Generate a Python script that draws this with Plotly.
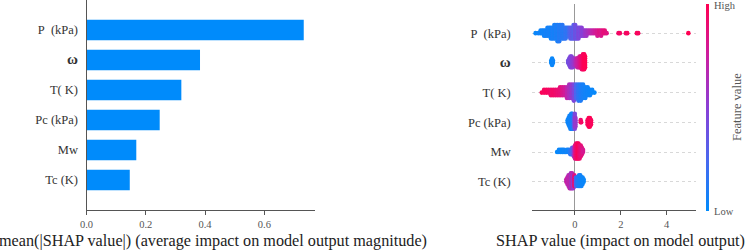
import numpy as np
import plotly.graph_objects as go

W, H = 749, 252
SERIF = "Liberation Serif"

# ---------------- data ----------------
features = ["P\u00a0 (kPa)", "<b><span style='font-size:15px'>ω</span></b>", "T( K)", "Pc (kPa)", "Mw", "Tc (K)"]  # top -> bottom
mean_abs_shap = [0.733, 0.383, 0.320, 0.247, 0.168, 0.146]

bar_ticks = [0.0, 0.2, 0.4, 0.6]
bar_ticktext = ["0.0", "0.2", "0.4", "0.6"]
swarm_ticks = [0, 2, 4]
swarm_ticktext = ["0", "2", "4"]
colorbar_labels = ["High", "Low"]

# [shap value, feature value (0=low..1=high), number of samples]
P_points = [
    [-1.72, 0.03, 1], [-1.60, 0.05, 1], [-1.50, 0.04, 2], [-1.42, 0.06, 2], [-1.35, 0.05, 3],
    [-1.28, 0.07, 3], [-1.20, 0.06, 4], [-1.12, 0.08, 4], [-1.05, 0.05, 5], [-0.98, 0.09, 5],
    [-0.90, 0.07, 6], [-0.83, 0.10, 6], [-0.76, 0.08, 7], [-0.69, 0.12, 7], [-0.62, 0.10, 6],
    [-0.55, 0.14, 6], [-0.48, 0.12, 5], [-0.41, 0.17, 5], [-0.34, 0.15, 4], [-0.27, 0.22, 4],
    [-0.20, 0.28, 5], [-0.13, 0.34, 5], [-0.06, 0.30, 6], [0.01, 0.40, 6], [0.08, 0.36, 5],
    [0.15, 0.45, 5], [0.22, 0.42, 4], [0.29, 0.50, 4], [0.36, 0.48, 3], [0.43, 0.55, 3],
    [0.50, 0.58, 3], [0.58, 0.62, 2], [0.66, 0.66, 2], [0.74, 0.70, 2], [0.82, 0.74, 2],
    [0.90, 0.78, 2], [0.98, 0.80, 3], [1.06, 0.84, 2], [1.14, 0.82, 3], [1.22, 0.86, 2],
    [1.30, 0.88, 2], [1.38, 0.85, 1], [1.90, 0.93, 1], [1.96, 0.95, 1], [2.22, 0.94, 1],
    [2.28, 0.96, 1], [2.70, 0.97, 1], [2.76, 0.96, 1], [4.95, 1.00, 1],
]
omega_points = [
    [-1.04, 0.02, 2], [-1.00, 0.03, 4], [-0.96, 0.04, 2],
    [-0.30, 0.40, 2], [-0.25, 0.42, 4], [-0.20, 0.45, 6], [-0.15, 0.47, 6], [-0.10, 0.50, 5],
    [-0.05, 0.55, 4], [0.02, 0.62, 3], [0.06, 0.68, 4], [0.10, 0.72, 5], [0.15, 0.76, 5],
    [0.20, 0.80, 6], [0.25, 0.86, 6], [0.30, 0.90, 7], [0.35, 0.95, 8], [0.40, 0.98, 8],
    [0.44, 1.00, 6],
]
T_points = [
    [-1.45, 0.98, 1], [-1.35, 0.96, 2], [-1.25, 0.97, 2], [-1.15, 0.95, 2], [-1.05, 0.93, 3],
    [-0.95, 0.94, 3], [-0.85, 0.92, 3], [-0.75, 0.90, 3], [-0.65, 0.88, 4], [-0.55, 0.82, 4],
    [-0.45, 0.78, 4], [-0.35, 0.70, 5], [-0.25, 0.62, 6], [-0.15, 0.55, 6], [-0.05, 0.45, 7],
    [0.05, 0.25, 6], [0.15, 0.15, 7], [0.25, 0.10, 7], [0.35, 0.08, 6], [0.45, 0.06, 5],
    [0.55, 0.05, 4], [0.65, 0.04, 3], [0.75, 0.03, 2], [0.85, 0.02, 1],
]
Pc_points = [
    [-0.32, 0.03, 2], [-0.28, 0.05, 4], [-0.24, 0.04, 6], [-0.20, 0.06, 7], [-0.16, 0.05, 8],
    [-0.12, 0.07, 8], [-0.08, 0.10, 7], [-0.04, 0.25, 5], [-0.01, 0.45, 8], [0.02, 0.55, 5],
    [0.25, 0.92, 2], [0.27, 0.95, 1], [0.55, 0.96, 3], [0.60, 0.98, 5], [0.65, 1.00, 5],
    [0.70, 0.97, 3],
]
Mw_points = [
    [-0.78, 0.02, 1], [-0.70, 0.03, 2], [-0.62, 0.04, 2], [-0.55, 0.03, 2], [-0.48, 0.05, 2],
    [-0.42, 0.04, 1], [-0.35, 0.06, 2], [-0.28, 0.05, 2], [-0.20, 0.15, 3], [-0.12, 0.30, 4],
    [-0.05, 0.55, 5], [0.00, 0.80, 7], [0.05, 0.90, 8], [0.10, 0.95, 8], [0.15, 0.98, 8],
    [0.20, 0.92, 7], [0.25, 0.88, 6], [0.30, 0.85, 4], [0.35, 0.80, 2],
]
Tc_points = [
    [-0.38, 0.70, 2], [-0.33, 0.75, 4], [-0.28, 0.65, 6], [-0.23, 0.72, 7], [-0.18, 0.60, 8],
    [-0.13, 0.68, 8], [-0.08, 0.55, 7], [-0.03, 0.85, 6], [0.00, 0.95, 5], [0.04, 0.30, 5],
    [0.08, 0.15, 4], [0.13, 0.10, 5], [0.18, 0.08, 6], [0.23, 0.06, 6], [0.28, 0.05, 5],
    [0.33, 0.04, 4], [0.38, 0.03, 2],
]
swarm_data = [P_points, omega_points, T_points, Pc_points, Mw_points, Tc_points]  # top -> bottom

colorscale = [[0.0, "#008bfb"], [0.25, "#4a68ef"], [0.5, "#8a3fd6"], [0.75, "#cc1ea0"], [1.0, "#ff0052"]]

# ---------------- helpers ----------------
def px(x):
    return x / W

def py(y):
    return 1 - y / H

def beeswarm(vals, row_height=0.4, nbins=100):
    vals = np.asarray(vals, dtype=float)
    n = len(vals)
    quant = np.round(nbins * (vals - vals.min()) / (vals.max() - vals.min() + 1e-8))
    inds = np.lexsort((np.arange(n), quant))
    ys = np.zeros(n)
    layer, last = 0, -1
    for ind in inds:
        if quant[ind] != last:
            layer = 0
        ys[ind] = np.ceil(layer / 2) * ((layer % 2) * 2 - 1)
        layer += 1
        last = quant[ind]
    ys *= 0.9 * (row_height / np.max(ys + 1))
    return ys

nfeat = len(features)
ypos = [nfeat - 1 - i for i in range(nfeat)]

fig = go.Figure()

fig.add_trace(go.Bar(
    x=mean_abs_shap, y=ypos, orientation="h", width=0.68,
    marker=dict(color="#008bfb", line=dict(width=0)),
    xaxis="x", yaxis="y", hoverinfo="skip",
))

all_x, all_y, all_c = [], [], []
for i, pts in enumerate(swarm_data):
    xs, cs = [], []
    for s, fv, n in pts:
        xs += [s] * n
        cs += [fv] * n
    offs = beeswarm(xs)
    all_x += xs
    all_y += list(ypos[i] + offs)
    all_c += cs

fig.add_trace(go.Scatter(
    x=all_x, y=all_y, mode="markers", xaxis="x2", yaxis="y2", hoverinfo="skip",
    marker=dict(
        size=4.6, color=all_c, colorscale=colorscale, cmin=0, cmax=1,
        line=dict(width=0),
        colorbar=dict(
            x=px(706), xanchor="left", xpad=0, y=py(4), yanchor="top", ypad=0,
            lenmode="pixels", len=207, thickness=3, outlinewidth=0,
            showticklabels=False, ticks="",
        ),
    ),
))

axis_common = dict(showgrid=False, zeroline=False, fixedrange=True, automargin=False)

cb_font = dict(family=SERIF, size=10.5, color="#555")

fig.update_layout(
    width=W, height=H, autosize=False,
    margin=dict(l=0, r=0, t=0, b=0, autoexpand=False),
    paper_bgcolor="white", plot_bgcolor="white",
    showlegend=False,
    font=dict(family=SERIF),
    xaxis=dict(
        domain=[px(86.5), px(315)], range=[0, 0.771], anchor="y",
        showline=True, linecolor="#555", linewidth=1,
        ticks="outside", ticklen=4, tickcolor="#555",
        tickvals=bar_ticks, ticktext=bar_ticktext,
        tickfont=dict(family=SERIF, size=10.5, color="#555"),
        **axis_common,
    ),
    yaxis=dict(
        domain=[py(210), py(0)], range=[-1, 6], anchor="x",
        showline=True, linecolor="#555", linewidth=1, ticks="",
        tickvals=ypos, ticktext=features, ticklabelstandoff=5,
        tickfont=dict(family=SERIF, size=12.5, color="#333"),
        **axis_common,
    ),
    xaxis2=dict(
        domain=[px(531.7), px(695.7)], range=[-1.89, 5.27], anchor="y2",
        showline=True, linecolor="#555", linewidth=1,
        ticks="outside", ticklen=4, tickcolor="#555",
        tickvals=swarm_ticks, ticktext=swarm_ticktext,
        tickfont=dict(family=SERIF, size=10.5, color="#555"),
        showgrid=False, zeroline=True, zerolinecolor="#999", zerolinewidth=1,
        fixedrange=True, automargin=False,
    ),
    yaxis2=dict(
        domain=[py(210), py(4)], range=[-0.95, 5.98], anchor="x2",
        showline=False, ticks="",
        tickvals=ypos, ticktext=features, ticklabelstandoff=20,
        tickfont=dict(family=SERIF, size=12.5, color="#333"),
        showgrid=True, gridcolor="#d8d8d8", griddash="dot", gridwidth=1,
        zeroline=False, fixedrange=True, automargin=False,
    ),
    annotations=[
        dict(text="mean(|SHAP value|) (average impact on model output magnitude)",
             x=px(213.5), y=py(241), xref="paper", yref="paper",
             xanchor="center", yanchor="middle", showarrow=False,
             font=dict(family=SERIF, size=16.2, color="#222")),
        dict(text="SHAP value (impact on model output)",
             x=px(620.5), y=py(241), xref="paper", yref="paper",
             xanchor="center", yanchor="middle", showarrow=False,
             font=dict(family=SERIF, size=16.2, color="#222")),
        dict(text=colorbar_labels[0], x=px(712), y=py(5), xref="paper", yref="paper",
             xanchor="left", yanchor="middle", showarrow=False, font=cb_font),
        dict(text=colorbar_labels[1], x=px(712), y=py(211), xref="paper", yref="paper",
             xanchor="left", yanchor="middle", showarrow=False, font=cb_font),
        dict(text="Feature value", x=px(737), y=py(107), xref="paper", yref="paper",
             xanchor="center", yanchor="middle", showarrow=False, textangle=-90,
             font=dict(family=SERIF, size=12.5, color="#555")),
    ],
)

fig.write_html(
    "out.html",
    config={"displayModeBar": False},
    post_script="document.body.style.margin='0';document.body.style.padding='0';",
)
